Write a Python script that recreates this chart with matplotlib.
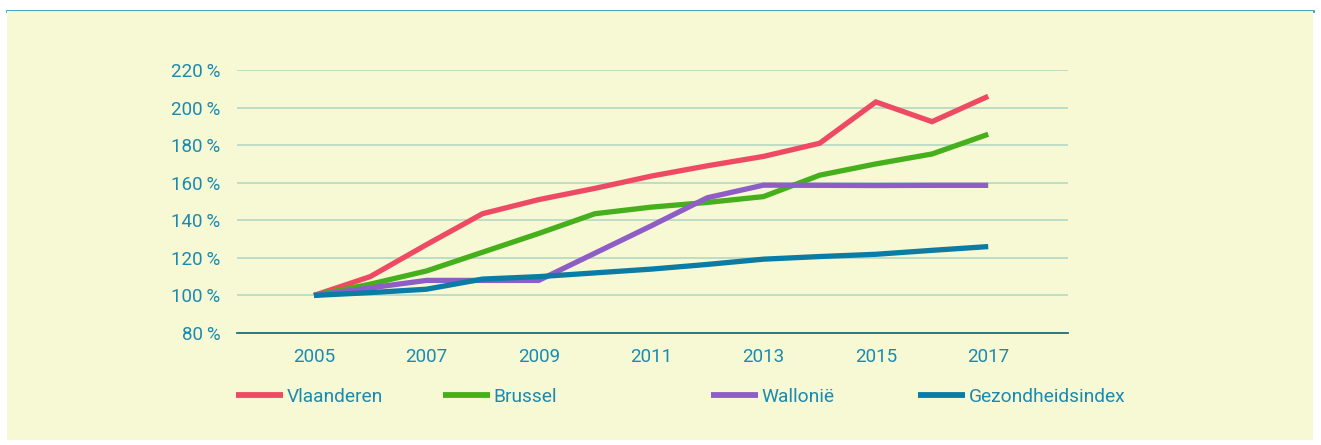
import matplotlib.pyplot as plt
from matplotlib.lines import Line2D
from matplotlib.patches import Rectangle

# index values (2005 = 100 %)
years = list(range(2005, 2018))
vlaanderen = [100, 110, 127, 143.5, 151, 157, 163.5, 169, 174, 181, 203, 192.5, 206]
brussel = [100, 106, 113, 123, 133, 143.5, 147, 149.5, 152.6, 164, 170, 175.3, 185.8]
wallonie = [100, 104, 108, 108, 108, 122.5, 137, 152, 158.7, 158.6, 158.5, 158.6, 158.6]
gezondheid = [100, 101.5, 103.3, 108.7, 110, 112, 114, 116.5, 119.3, 120.7, 121.9, 124, 126]

series_names = ["Vlaanderen", "Brussel", "Wallonië", "Gezondheidsindex"]
series_colors = ["#EF4A64", "#45AF1C", "#8E5EC6", "#0B7CA5"]
yticks = [80, 100, 120, 140, 160, 180, 200, 220]
xticks = [2005, 2007, 2009, 2011, 2013, 2015, 2017]

txt_color = "#1A8AB0"
plt.rcParams["font.family"] = ["Roboto", "DejaVu Sans"]

fig = plt.figure(figsize=(13.21, 4.45), dpi=100)
fig.patch.set_facecolor("white")

# pale panel with teal rule across the top
fig.patches.append(Rectangle((7 / 1321, 5 / 445), 1306 / 1321, 429 / 445,
                             transform=fig.transFigure, facecolor="#F7F9D5",
                             edgecolor="none", zorder=0))
fig.lines.append(Line2D([7 / 1321, 1313 / 1321], [434 / 445, 434 / 445],
                        transform=fig.transFigure, color="#3A9CBC", lw=2, zorder=0))

ax = fig.add_axes([237 / 1321, 112 / 445, 831 / 1321, 263 / 445])
ax.set_facecolor("none")
ax.set_zorder(2)

for vals, name, col in zip([vlaanderen, brussel, wallonie, gezondheid],
                           series_names, series_colors):
    ax.plot(years, vals, color=col, lw=3.8, label=name,
            solid_capstyle="butt", solid_joinstyle="miter", clip_on=False, zorder=3)

ax.set_xlim(2003.63, 2018.42)
ax.set_ylim(80, 220)
ax.set_yticks(yticks)
ax.set_yticklabels([f"{v}\u2009%" for v in yticks])
ax.set_xticks(xticks)
ax.set_xticklabels([str(x) for x in xticks])

ax.grid(axis="y", color="#B9D9C6", lw=1.3, zorder=1)
ax.tick_params(axis="both", length=0, labelsize=13.5, labelcolor=txt_color)
ax.tick_params(axis="x", pad=11)
ax.tick_params(axis="y", pad=12)

for side in ["top", "right", "left"]:
    ax.spines[side].set_visible(False)
ax.spines["bottom"].set_color("#1C6F80")
ax.spines["bottom"].set_linewidth(1.3)

# one legend entry per column, spaced like the original layout
handles = ax.get_lines()
legend_x = [236, 443, 711, 918]
for h, lx in zip(handles, legend_x):
    lg = fig.legend([h], [h.get_label()], loc="center left",
                    bbox_to_anchor=(lx / 1321, 48 / 445), frameon=False,
                    handlelength=2.45, handletextpad=0.2, borderpad=0,
                    borderaxespad=0, fontsize=13.8)
    for t in lg.get_texts():
        t.set_color(txt_color)
    lg.get_lines()[0].set_linewidth(4.2)

fig.savefig("out.png", dpi=100)
